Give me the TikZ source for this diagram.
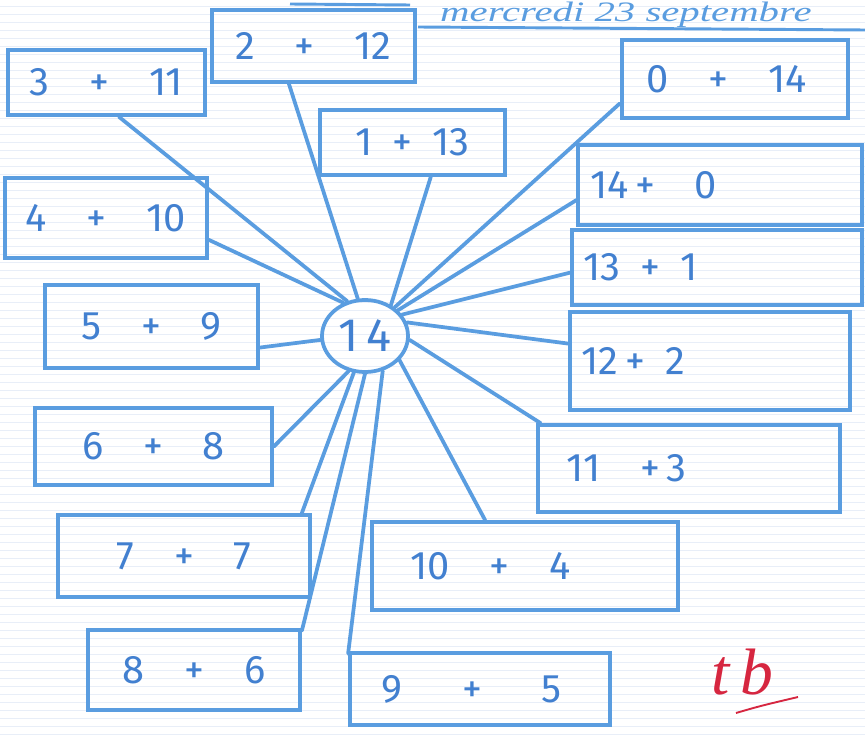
\documentclass[tikz,border=0pt]{standalone}
\usepackage{fontspec}
\newfontfamily\hand{Fira Sans}
\newfontfamily\script{Liberation Serif}
\usetikzlibrary{shapes.geometric}
\definecolor{pencil}{RGB}{90,157,224}
\definecolor{ink}{RGB}{66,128,208}
\definecolor{redink}{RGB}{214,38,64}
\definecolor{ruling}{RGB}{232,238,248}

\begin{document}
\begin{tikzpicture}[x=0.03cm, y=-0.03cm,
  box/.style={draw=pencil, line width=3.2pt, minimum width=#1, align=center, text=ink, font=\hand\fontsize{34}{36}\selectfont},
  rbox/.style={box=0pt, align=left, inner xsep=0.35cm},
  hub/.style={draw=pencil, line width=3.2pt, ellipse, inner sep=0pt, minimum width=2.58cm, minimum height=2.16cm, text=ink, font=\hand\fontsize{40}{42}\selectfont},
  spoke/.style={draw=pencil, line width=3.2pt, line cap=round}
]
\useasboundingbox (0,0) rectangle (865,736);
\fill[white] (0,0) rectangle (865,736);
\foreach \y in {6,14,...,734}
  \draw[ruling, line width=0.4pt] (0,\y) -- (865,\y);

% Heading
\node[anchor=base west, inner sep=0pt, text=pencil, font=\script\itshape\fontsize{24}{26}\selectfont] (date) at (440,22) {\scalebox{1.45}[1]{mercredi 23 septembre}};
\draw[pencil, line width=2.5pt] (290,4) -- (410,5);
\draw[pencil, line width=2.5pt] (418,27) -- (865,30);

% Nodes
\node[hub] (c) at (365,336) {1\,4};

\node[box=5.91cm, minimum height=1.95cm] (b311) at (106.5,82.5) {3\quad+\quad11};
\node[box=6.09cm, minimum height=2.16cm] (b212) at (313.5,46) {2\quad+\quad12};
\node[box=5.55cm, minimum height=1.95cm] (b113) at (412.5,142.5) {1\enspace+\enspace13};
\node[box=6.06cm, minimum height=2.4cm] (b410) at (106,218) {4\quad+\quad10};
\node[box=6.39cm, minimum height=2.49cm] (b59) at (151.5,326.5) {5\quad+\quad9};
\node[box=7.11cm, minimum height=2.31cm] (b68) at (153.5,446.5) {6\quad+\quad8};
\node[box=7.56cm, minimum height=2.46cm] (b77) at (184,556) {7\quad+\quad7};
\node[box=6.36cm, minimum height=2.4cm] (b86) at (194,670) {8\quad+\quad6};

\node[rbox, text width=6.1cm, minimum height=2.34cm] (b014) at (735,79) {\hspace*{0.4cm}0\quad+\quad14};
\node[rbox, text width=7.8cm, minimum height=2.4cm] (b140) at (720,185) {14\,+\quad0};
\node[rbox, text width=8.0cm, minimum height=2.25cm] (b131) at (717,267.5) {13\enspace+\enspace1};
\node[rbox, text width=7.7cm, minimum height=2.94cm] (b122) at (710,361) {12\,+\enspace2};
\node[rbox, text width=8.36cm, minimum height=2.61cm] (b113r) at (689,468.5) {\hspace*{0.5cm}11\quad+\,3};
\node[rbox, text width=8.48cm, minimum height=2.64cm] (b104) at (525,566) {\hspace*{0.8cm}10\quad+\quad4};
\node[rbox, text width=7.1cm, minimum height=2.16cm] (b95) at (480,689) {\hspace*{0.6cm}9\quad\enspace+\quad\enspace5};

\node[text=redink, font=\script\itshape\fontsize{56}{58}\selectfont] (sign) at (742,672) {t\,b};
\draw[redink, line width=1.6pt] (736,713) .. controls (760,706) .. (798,697);

% Lines
\draw[spoke] (c.117) -- (b311.-70);
\draw[spoke] (c.101) -- (b212.-123);
\draw[spoke] (c.50) -- (b113.-62);
\draw[spoke] (c.123) -- (b410.-12);
\draw[spoke] (c.185) -- (b59.-11);
\draw[spoke] (c.-115) -- (b68.0);
\draw[spoke] (c.-107) -- (b77.20);
\draw[spoke] (c.-90) -- (b86.20);
\draw[spoke] (c.44) -- (b014.-168);
\draw[spoke] (c.38) -- (b140.-174);
\draw[spoke] (c.30) -- (b131.-178);
\draw[spoke] (c.18) -- (b122.173);
\draw[spoke] (c.-5) -- (b113r.163);
\draw[spoke] (c.-35) -- (b104.131);
\draw[spoke] (c.-63) -- (b95.165);

\end{tikzpicture}
\end{document}
